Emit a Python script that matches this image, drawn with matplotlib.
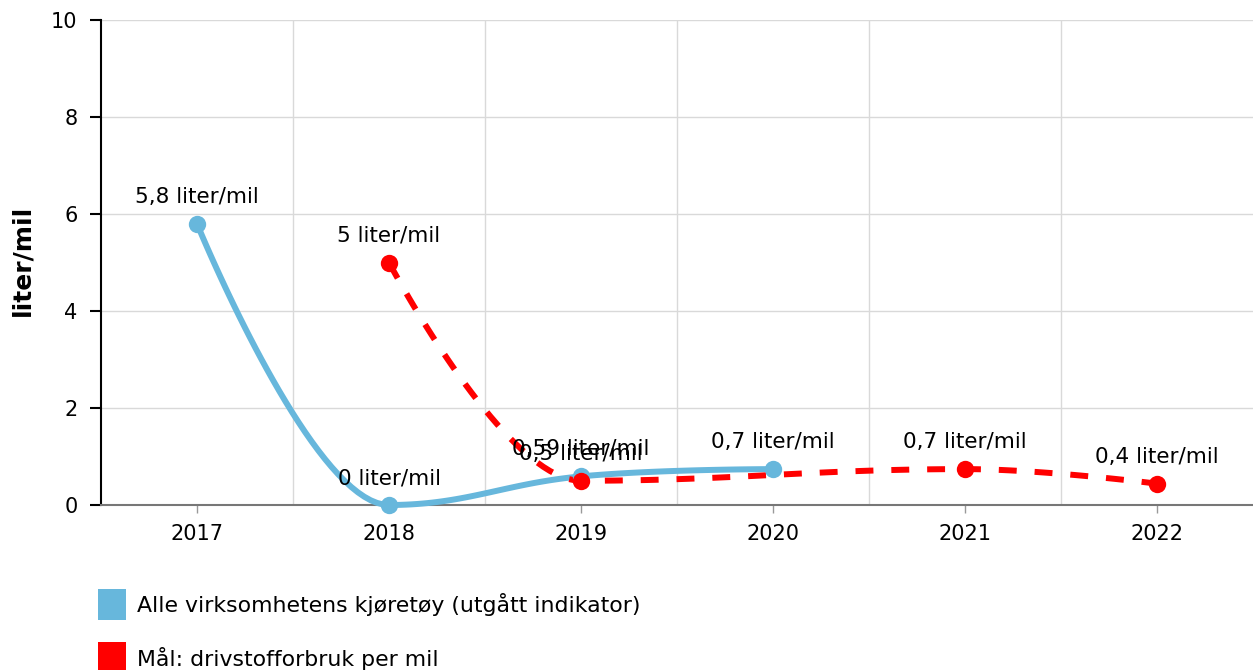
import numpy as np
import matplotlib
matplotlib.use("Agg")
import matplotlib.pyplot as plt
from matplotlib.patches import Rectangle

plt.rcParams['font.family'] = ['DejaVu Sans']

categories = ['2017', '2018', '2019', '2020', '2021', '2022']
blue_name = 'Alle virksomhetens kjøretøy (utgått indikator)'
red_name = 'Mål: drivstofforbruk per mil'
blue_values = [5.8, 0.0, 0.59, 0.74, None, None]
blue_labels = ['5,8 liter/mil', '0 liter/mil', '0,59 liter/mil', '0,7 liter/mil', None, None]
red_values = [None, 5.0, 0.5, None, 0.74, 0.44]
red_labels = [None, '5 liter/mil', '0,5 liter/mil', None, '0,7 liter/mil', '0,4 liter/mil']
yticks = [0, 2, 4, 6, 8, 10]
ylabel = 'liter/mil'

BLUE = '#67b7dc'
RED = '#ff0000'
FS = 15.5


def spline_path(xs, ys, smoothing=1.5, n=40):
    """Highcharts-like spline through the given points."""
    pts = list(zip(xs, ys))
    m = len(pts)
    lc = [None] * m
    rc = [None] * m
    for i in range(m):
        x, y = pts[i]
        if 0 < i < m - 1:
            lx, ly = pts[i - 1]
            nx, ny = pts[i + 1]
            d = smoothing + 1
            lcx = (smoothing * x + lx) / d
            lcy = (smoothing * y + ly) / d
            rcx = (smoothing * x + nx) / d
            rcy = (smoothing * y + ny) / d
            if rcx != lcx:
                corr = (rcy - lcy) * (rcx - x) / (rcx - lcx) + y - rcy
                lcy += corr
                rcy += corr
                if lcy > ly and lcy > y:
                    lcy = max(ly, y); rcy = 2 * y - lcy
                elif lcy < ly and lcy < y:
                    lcy = min(ly, y); rcy = 2 * y - lcy
                if rcy > ny and rcy > y:
                    rcy = max(ny, y); lcy = 2 * y - rcy
                elif rcy < ny and rcy < y:
                    rcy = min(ny, y); lcy = 2 * y - rcy
            lc[i] = (lcx, lcy)
            rc[i] = (rcx, rcy)
        else:
            lc[i] = (x, y)
            rc[i] = (x, y)
    outx, outy = [pts[0][0]], [pts[0][1]]
    t = np.linspace(0, 1, n)[1:]
    for i in range(1, m):
        p0 = np.array(pts[i - 1]); p1 = np.array(rc[i - 1])
        p2 = np.array(lc[i]); p3 = np.array(pts[i])
        for tt in t:
            b = ((1 - tt) ** 3) * p0 + 3 * ((1 - tt) ** 2) * tt * p1 + 3 * (1 - tt) * tt ** 2 * p2 + tt ** 3 * p3
            outx.append(b[0]); outy.append(b[1])
    return outx, outy


W, H = 1253, 670
fig = plt.figure(figsize=(W / 100, H / 100), dpi=100)
L, R, T, B = 101, 1253, 20, 505
ax = fig.add_axes([L / W, 1 - B / H, (R - L) / W, (B - T) / H])

x_all = np.arange(len(categories))

for vals, labs, color, dashed in [(blue_values, blue_labels, BLUE, False),
                                  (red_values, red_labels, RED, True)]:
    xs = [x for x, v in zip(x_all, vals) if v is not None]
    ys = [v for v in vals if v is not None]
    sx, sy = spline_path(xs, ys)
    if dashed:
        ax.plot(sx, sy, color=color, lw=4.3, dashes=(3, 3), dash_capstyle='butt',
                zorder=3, clip_on=False)
    else:
        ax.plot(sx, sy, color=color, lw=4.3, zorder=3, solid_capstyle='round',
                clip_on=False)
    ax.plot(xs, ys, 'o', color=color, ms=12.5, zorder=4, clip_on=False, mew=0)
    for x, v, lab in zip(x_all, vals, labs):
        if v is None or lab is None:
            continue
        ax.annotate(lab, (x, v), xytext=(0, 21), textcoords='offset pixels',
                    ha='center', va='baseline', fontsize=FS, color='#000000', zorder=5)

ax.set_xlim(-0.5, len(categories) - 0.5)
ax.set_ylim(0, 10)
ax.set_yticks(yticks)
ax.set_yticklabels([str(v) for v in yticks], fontsize=15)
ax.set_xticks(x_all)
ax.set_xticklabels(categories, fontsize=15)
ax.set_xticks(np.arange(0.5, len(categories) - 0.5, 1), minor=True)

ax.grid(axis='y', which='major', color='#d9d9d9', lw=1)
ax.grid(axis='x', which='minor', color='#d9d9d9', lw=1)
ax.grid(axis='x', which='major', visible=False)
ax.set_axisbelow(True)

ax.tick_params(axis='y', which='major', length=8, width=1.5, color='#000000', pad=9)
ax.tick_params(axis='x', which='major', length=6, width=1, color='#999999', pad=8, direction='out')
ax.tick_params(axis='x', which='minor', length=0)

for s in ['top', 'right']:
    ax.spines[s].set_visible(False)
ax.spines['left'].set_color('#000000')
ax.spines['left'].set_linewidth(1.5)
ax.spines['bottom'].set_color('#777777')
ax.spines['bottom'].set_linewidth(1.5)

fig.text(22 / W, 1 - 260 / H, ylabel, rotation=90, fontsize=18, fontweight='bold',
         ha='center', va='center')

# legend
for (ytop, color, name) in [(589, BLUE, blue_name), (642, RED, red_name)]:
    fig.add_artist(Rectangle((98 / W, 1 - (ytop + 31) / H), 28 / W, 31 / H,
                             transform=fig.transFigure, color=color, lw=0))
    fig.text(137 / W, 1 - (ytop + 16) / H, name, fontsize=15.8, ha='left', va='center')

fig.savefig('out.png', dpi=100)
